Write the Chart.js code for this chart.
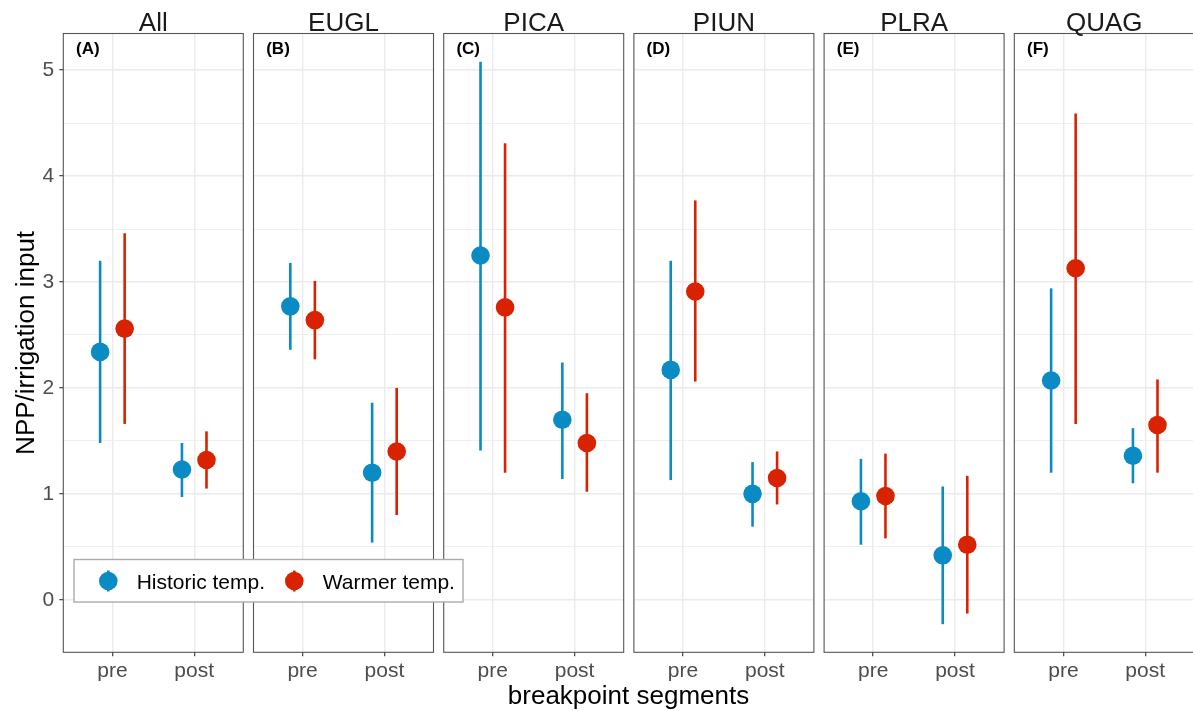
<!DOCTYPE html>
<html>
<head>
<meta charset="utf-8">
<script src="https://cdn.jsdelivr.net/npm/chart.js@4.4.1/dist/chart.umd.min.js"></script>
<style>
  html, body { margin: 0; padding: 0; background: #ffffff; }
  #wrap { position: relative; width: 1193px; height: 711px; overflow: hidden; background: #ffffff; }
  #wrap canvas { position: absolute; left: 0; top: 0; }
</style>
</head>
<body>
<div id="wrap"></div>
<script>
// ---- data -------------------------------------------------------------
const species = ['All', 'EUGL', 'PICA', 'PIUN', 'PLRA', 'QUAG'];
const panelTags = ['(A)', '(B)', '(C)', '(D)', '(E)', '(F)'];
const segments = ['pre', 'post'];
const seriesNames = ['Historic temp.', 'Warmer temp.'];
const yTickValues = [0, 0.5, 1, 1.5, 2, 2.5, 3, 3.5, 4, 4.5, 5];

// one row per species, values for [pre, post]
const historicMean = [[2.34, 1.23], [2.77, 1.20], [3.25, 1.70], [2.17, 1.00], [0.93, 0.42], [2.07, 1.36]];
const historicLow  = [[1.48, 0.97], [2.36, 0.54], [1.41, 1.14], [1.13, 0.69], [0.52, -0.23], [1.20, 1.10]];
const historicHigh = [[3.20, 1.48], [3.18, 1.86], [5.08, 2.24], [3.20, 1.30], [1.33, 1.07], [2.94, 1.62]];
const warmerMean   = [[2.56, 1.32], [2.64, 1.40], [2.76, 1.48], [2.91, 1.15], [0.98, 0.52], [3.13, 1.65]];
const warmerLow    = [[1.66, 1.05], [2.27, 0.80], [1.20, 1.02], [2.06, 0.90], [0.58, -0.13], [1.66, 1.20]];
const warmerHigh   = [[3.46, 1.59], [3.01, 2.00], [4.31, 1.95], [3.77, 1.40], [1.38, 1.17], [4.59, 2.08]];

// ---- look -------------------------------------------------------------
const W = 1220, H = 711;          // canvases run a little past the page's right edge
const FONT = '"Liberation Sans", Arial, Helvetica, sans-serif';
const BLUE = '#0b8bc3';
const RED = '#d92300';
const GRID = '#ebebeb';
const FRAME = '#555555';
const PANEL_LEFT0 = 63.3, PANEL_STEP = 190.2, PANEL_W = 180;
const PANEL_TOP = 33.5, PANEL_BOTTOM = 652.3;
const DODGE = 0.15;

// y range: data range widened by 5% on both sides
const allY = [historicLow, historicHigh, warmerLow, warmerHigh].flat(2);
const yLo = Math.min(...allY), yHi = Math.max(...allY);
const Y_MIN = yLo - 0.05 * (yHi - yLo);
const Y_MAX = yHi + 0.05 * (yHi - yLo);

// vertical interval line for every point, drawn below the points
const intervalPlugin = {
  id: 'intervals',
  beforeDatasetsDraw(chart) {
    const ctx = chart.ctx, ys = chart.scales.y;
    chart.data.datasets.forEach((ds, di) => {
      const meta = chart.getDatasetMeta(di);
      meta.data.forEach((el, k) => {
        const raw = ds.data[k];
        ctx.save();
        ctx.strokeStyle = ds.backgroundColor;
        ctx.lineWidth = 2.6;
        ctx.lineCap = 'butt';
        ctx.beginPath();
        ctx.moveTo(el.x, ys.getPixelForValue(raw.lo));
        ctx.lineTo(el.x, ys.getPixelForValue(raw.hi));
        ctx.stroke();
        ctx.restore();
      });
    });
  }
};

// frame, strip title and tag of each panel
const panelPlugin = {
  id: 'panelDecor',
  afterDraw(chart, args, opts) {
    const ctx = chart.ctx, a = chart.chartArea;
    ctx.save();
    ctx.strokeStyle = FRAME;
    ctx.lineWidth = 1.1;
    ctx.strokeRect(a.left, a.top, a.right - a.left, a.bottom - a.top);
    ctx.fillStyle = '#1a1a1a';
    ctx.font = '26px ' + FONT;
    ctx.textAlign = 'center';
    ctx.textBaseline = 'alphabetic';
    ctx.fillText(opts.title, (a.left + a.right) / 2, 30.5);
    ctx.fillStyle = '#000000';
    ctx.font = 'bold 17px ' + FONT;
    ctx.textAlign = 'left';
    ctx.fillText(opts.tag, a.left + 12.7, a.top + 20.8);
    ctx.restore();
  }
};

// axis titles (first panel canvas)
const axisTitlePlugin = {
  id: 'axisTitles',
  afterDraw(chart, args, opts) {
    if (!opts.show) return;
    const ctx = chart.ctx;
    ctx.save();
    ctx.fillStyle = '#000000';
    ctx.font = '26px ' + FONT;
    ctx.textAlign = 'center';
    ctx.textBaseline = 'alphabetic';
    ctx.fillText('breakpoint segments', 628.5, 704);
    ctx.translate(33.5, (PANEL_TOP + PANEL_BOTTOM) / 2);
    ctx.rotate(-Math.PI / 2);
    ctx.fillText('NPP/irrigation input', 0, 0);
    ctx.restore();
  }
};

// legend box (top-most canvas)
const legendPlugin = {
  id: 'legendBox',
  afterDraw(chart, args, opts) {
    if (!opts.show) return;
    const ctx = chart.ctx;
    ctx.save();
    ctx.fillStyle = '#ffffff';
    ctx.fillRect(74, 559.5, 389, 42.5);
    ctx.strokeStyle = '#ababab';
    ctx.lineWidth = 1.4;
    ctx.strokeRect(74, 559.5, 389, 42.5);
    const keys = [
      { x: 108.3, tx: 136.7, color: BLUE, label: seriesNames[0] },
      { x: 294.3, tx: 322.7, color: RED, label: seriesNames[1] }
    ];
    keys.forEach(k => {
      ctx.strokeStyle = k.color;
      ctx.lineWidth = 2.6;
      ctx.beginPath();
      ctx.moveTo(k.x, 570.5);
      ctx.lineTo(k.x, 591.5);
      ctx.stroke();
      ctx.fillStyle = k.color;
      ctx.beginPath();
      ctx.arc(k.x, 581, 9.3, 0, Math.PI * 2);
      ctx.fill();
      ctx.fillStyle = '#000000';
      ctx.font = '21px ' + FONT;
      ctx.textAlign = 'left';
      ctx.textBaseline = 'alphabetic';
      ctx.fillText(k.label, k.tx, 588.5);
    });
    ctx.restore();
  }
};

function seriesData(mean, low, high, p, offset) {
  return segments.map((s, j) => ({ x: j + 1 + offset, y: mean[p][j], lo: low[p][j], hi: high[p][j] }));
}

const wrap = document.getElementById('wrap');
species.forEach((name, p) => {
  const canvas = document.createElement('canvas');
  canvas.width = W;
  canvas.height = H;
  wrap.appendChild(canvas);
  const left = PANEL_LEFT0 + p * PANEL_STEP;
  const right = left + PANEL_W;
  const first = p === 0;

  new Chart(canvas, {
    type: 'scatter',
    data: {
      datasets: [
        { label: seriesNames[0], data: seriesData(historicMean, historicLow, historicHigh, p, -DODGE),
          backgroundColor: BLUE, pointRadius: 9.3, pointHoverRadius: 9.3, borderWidth: 0 },
        { label: seriesNames[1], data: seriesData(warmerMean, warmerLow, warmerHigh, p, DODGE),
          backgroundColor: RED, pointRadius: 9.3, pointHoverRadius: 9.3, borderWidth: 0 }
      ]
    },
    options: {
      responsive: false,
      animation: false,
      devicePixelRatio: 1,
      layout: { padding: { left: 0, right: W - right, top: PANEL_TOP, bottom: 0 } },
      plugins: {
        legend: { display: false },
        tooltip: { enabled: false },
        panelDecor: { title: name, tag: panelTags[p] },
        axisTitles: { show: first },
        legendBox: { show: p === species.length - 1 }
      },
      scales: {
        x: {
          type: 'linear',
          min: 0.4,
          max: 2.6,
          afterBuildTicks: s => { s.ticks = segments.map((_, j) => ({ value: j + 1 })); },
          afterFit: s => { s.height = H - PANEL_BOTTOM; s.paddingLeft = 0; s.paddingRight = 0; },
          ticks: {
            autoSkip: false,
            maxRotation: 0,
            padding: 2,
            color: '#4d4d4d',
            font: { family: FONT, size: 21 },
            callback: v => segments[v - 1] ?? ''
          },
          grid: { color: GRID, lineWidth: 1.4, tickColor: '#333333', tickLength: 4, tickWidth: 1.1 },
          border: { display: false }
        },
        y: {
          type: 'linear',
          min: Y_MIN,
          max: Y_MAX,
          afterBuildTicks: s => { s.ticks = yTickValues.map(v => ({ value: v })); },
          afterFit: s => { s.width = left; s.paddingTop = 0; s.paddingBottom = 0; },
          ticks: {
            display: first,
            padding: 5,
            color: '#4d4d4d',
            font: { family: FONT, size: 21 },
            callback: v => Number.isInteger(v) ? String(v) : ''
          },
          grid: {
            color: GRID,
            lineWidth: c => (c.tick && Number.isInteger(c.tick.value)) ? 1.4 : 0.8,
            drawTicks: first,
            tickLength: 4,
            tickWidth: 1.1,
            tickColor: c => (c.tick && Number.isInteger(c.tick.value)) ? '#333333' : 'rgba(0,0,0,0)'
          },
          border: { display: false }
        }
      }
    },
    plugins: [intervalPlugin, panelPlugin, axisTitlePlugin, legendPlugin]
  });
});
</script>
</body>
</html>
